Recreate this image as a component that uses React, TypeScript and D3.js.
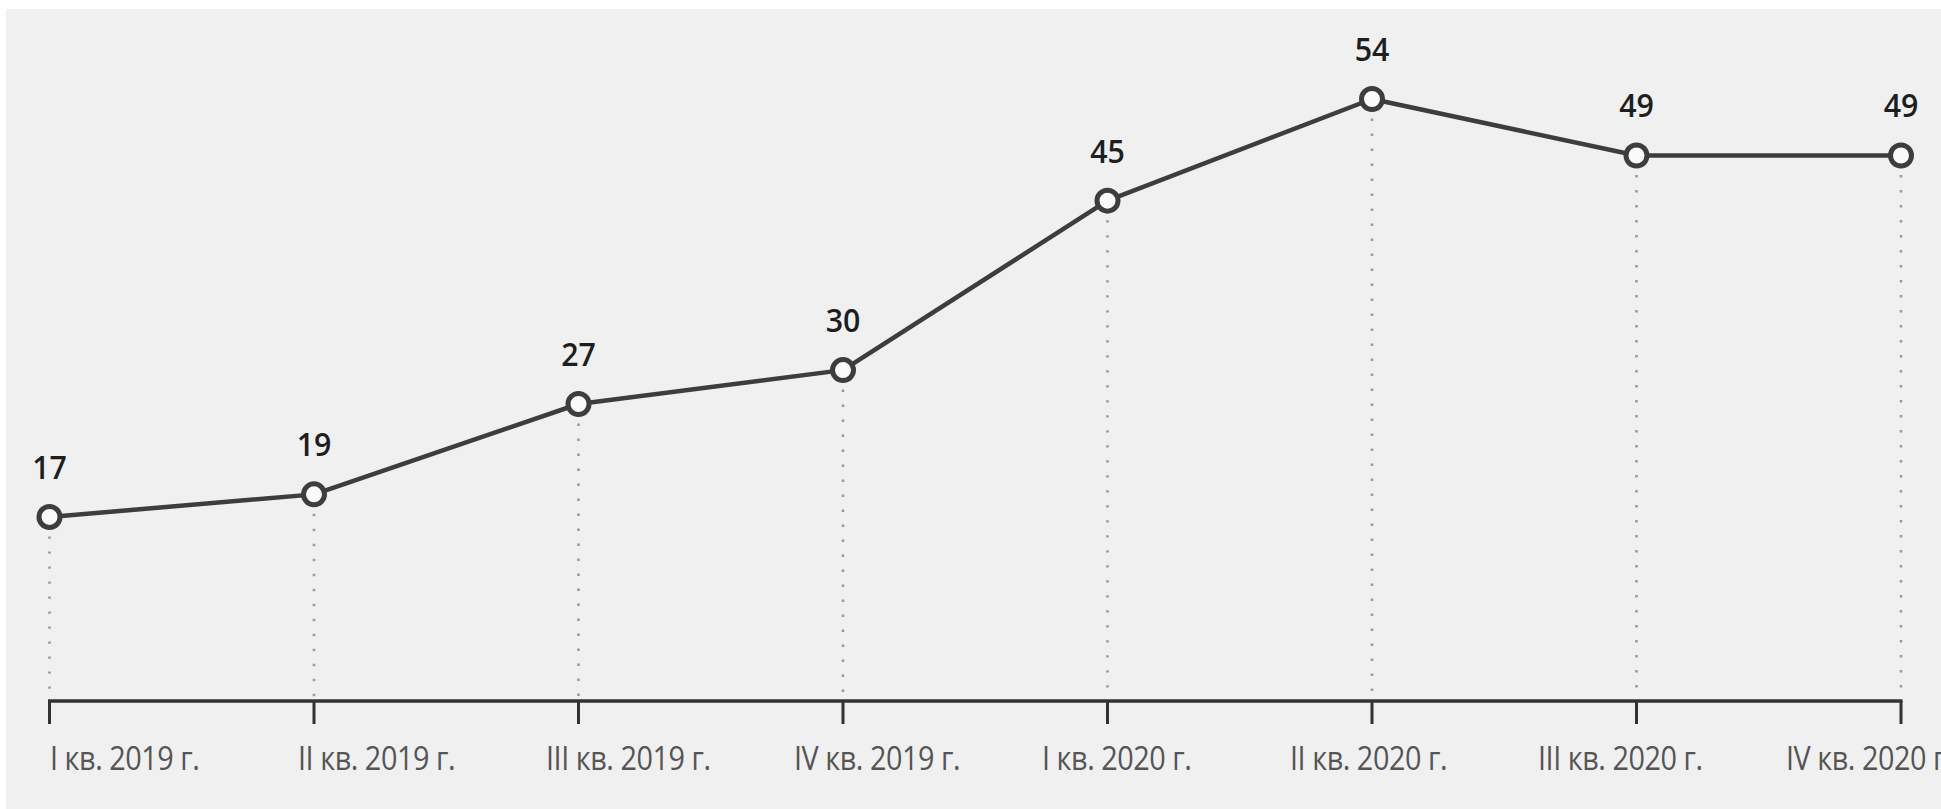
import React from "react";
import * as d3 from "d3";

const categories = [
  "I кв. 2019 г.",
  "II кв. 2019 г.",
  "III кв. 2019 г.",
  "IV кв. 2019 г.",
  "I кв. 2020 г.",
  "II кв. 2020 г.",
  "III кв. 2020 г.",
  "IV кв. 2020 г.",
];
const values = [17, 19, 27, 30, 45, 54, 49, 49];

const W = 1941;
const H = 809;

export default function App() {
  const x = d3.scalePoint<string>().domain(categories).range([49.5, 1901]);
  const labelX = d3.scalePoint<string>().domain(categories).range([50, 1786]);
  const y = d3.scaleLinear().domain([0, 54]).range([709, 99]);
  const axisY = 701;

  const data = categories.map((c, i) => ({ c, v: values[i] }));
  const line = d3
    .line<{ c: string; v: number }>()
    .x((d) => x(d.c)!)
    .y((d) => y(d.v));

  const r = 10.5;

  return (
    <svg
      width={W}
      height={H}
      style={{ position: "absolute", left: 0, top: 0, display: "block" }}
    >
      <rect x={0} y={0} width={W} height={H} fill="#ffffff" />
      <rect x={6} y={9} width={W - 6} height={H - 9} fill="#f0f0f0" />

      {/* dotted drop lines */}
      {data.map((d) => (
        <line
          key={"drop" + d.c}
          x1={x(d.c)}
          x2={x(d.c)}
          y1={y(d.v) + r + 9}
          y2={axisY - 2}
          stroke="#9a9a9a"
          strokeWidth={2.6}
          strokeDasharray="2.4 12.6"
        />
      ))}

      {/* axis */}
      <line
        x1={x(categories[0])! - 1.5}
        x2={x(categories[categories.length - 1])! + 1.5}
        y1={axisY}
        y2={axisY}
        stroke="#333333"
        strokeWidth={3.5}
      />
      {categories.map((c) => (
        <line
          key={"tick" + c}
          x1={x(c)}
          x2={x(c)}
          y1={axisY}
          y2={axisY + 23}
          stroke="#333333"
          strokeWidth={3}
        />
      ))}
      {categories.map((c) => (
        <text
          key={"lab" + c}
          transform={`translate(${labelX(c)},770) scale(0.9,1)`}
          fontFamily="'Open Sans', sans-serif"
          fontSize={32}
          fill="#555555"
          letterSpacing={-0.5}
          textAnchor="start"
        >
          {c}
        </text>
      ))}

      {/* line */}
      <path
        d={line(data)!}
        fill="none"
        stroke="#3d3d3d"
        strokeWidth={4.5}
        strokeLinejoin="round"
      />

      {data.map((d) => (
        <circle
          key={"pt" + d.c}
          cx={x(d.c)}
          cy={y(d.v)}
          r={r}
          fill="#fafafa"
          stroke="#3d3d3d"
          strokeWidth={5}
        />
      ))}

      {data.map((d) => (
        <text
          key={"val" + d.c}
          transform={`translate(${x(d.c)},${y(d.v) - 38}) scale(0.92,1)`}
          textAnchor="middle"
          fontFamily="'Open Sans', sans-serif"
          fontWeight={600}
          fontSize={33}
          fill="#1e1e1e"
        >
          {d.v}
        </text>
      ))}
    </svg>
  );
}
